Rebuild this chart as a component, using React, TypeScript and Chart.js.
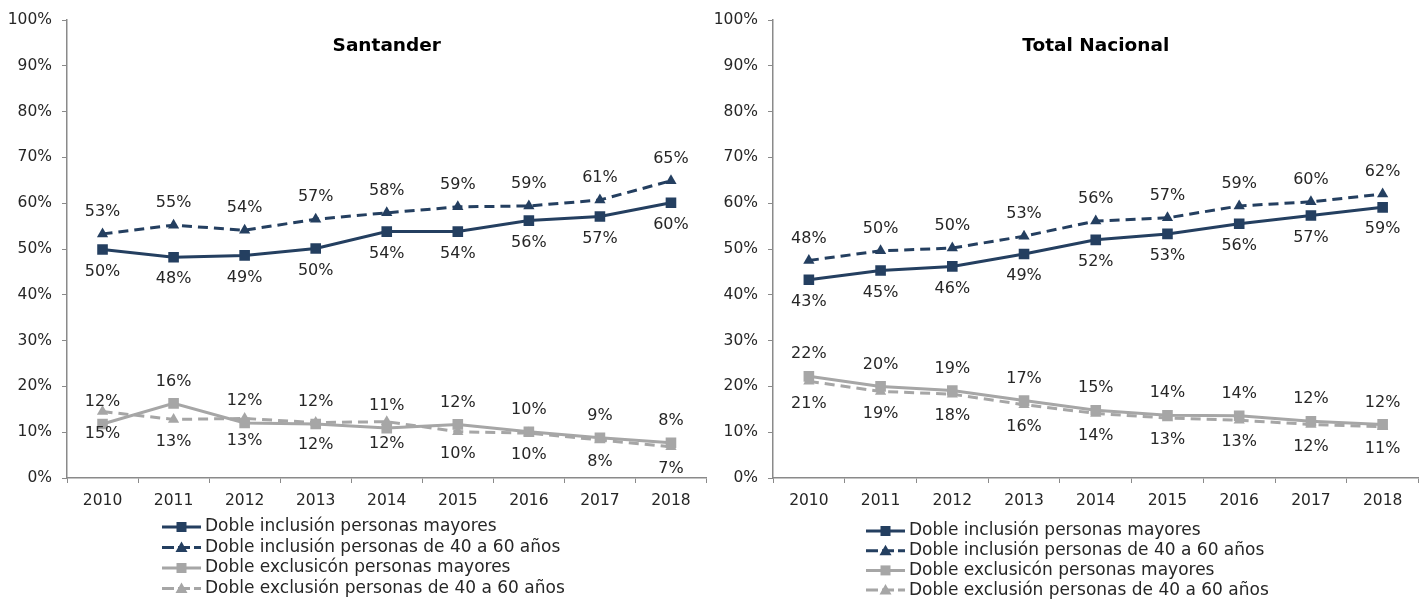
import React, { useEffect, useRef } from 'react';
import { Chart, registerables } from 'chart.js';
Chart.register(...registerables);

const years = ['2010', '2011', '2012', '2013', '2014', '2015', '2016', '2017', '2018'];
const seriesNames = [
  'Doble inclusión personas mayores',
  'Doble inclusión personas de 40 a 60 años',
  'Doble exclusicón personas mayores',
  'Doble exclusión personas de 40 a 60 años',
];
const santanderInclMayores = [49.9, 48.2, 48.6, 50.1, 53.8, 53.8, 56.2, 57.1, 60.1];
const santanderIncl4060 = [53.3, 55.2, 54.1, 56.5, 57.9, 59.2, 59.4, 60.7, 64.9];
const santanderExclMayores = [11.8, 16.3, 12.0, 11.8, 10.9, 11.7, 10.1, 8.8, 7.7];
const santanderExcl4060 = [14.5, 12.8, 13.0, 12.1, 12.3, 10.1, 9.8, 8.3, 6.8];
const nacionalInclMayores = [43.3, 45.3, 46.2, 48.9, 52.0, 53.3, 55.5, 57.3, 59.1];
const nacionalIncl4060 = [47.5, 49.6, 50.2, 52.8, 56.1, 56.8, 59.4, 60.3, 62.0];
const nacionalExclMayores = [22.2, 20.0, 19.1, 16.9, 14.8, 13.7, 13.6, 12.4, 11.7];
const nacionalExcl4060 = [21.1, 18.9, 18.3, 16.0, 14.1, 13.1, 12.6, 11.7, 11.2];
const yMin = 0;
const yMax = 100;
const yStep = 10;

const NAVY = '#243F60';
const GRAY = '#A6A6A6';
const TEXT = '#262626';
const AXIS = '#8a8a8a';
const FONT = '"DejaVu Sans"';
const DASH = [10, 6];

type ChartProps = {
  title: string;
  series: number[][];
  left: number;
  width: number;
  yWidth: number;
  padRight: number;
  legendX: number;
  legendY: number;
  legendGap: number;
};

function drawMarker(ctx: CanvasRenderingContext2D, style: string, x: number, y: number, color: string) {
  ctx.fillStyle = color;
  ctx.beginPath();
  if (style === 'rect') {
    ctx.rect(x - 5, y - 5, 10, 10);
  } else {
    ctx.moveTo(x, y - 6);
    ctx.lineTo(x + 6, y + 4.5);
    ctx.lineTo(x - 6, y + 4.5);
    ctx.closePath();
  }
  ctx.fill();
}

function LineChart({ title, series, left, width, yWidth, padRight, legendX, legendY, legendGap }: ChartProps) {
  const ref = useRef<HTMLCanvasElement>(null);
  useEffect(() => {
    if (!ref.current) return;
    const colors = [NAVY, NAVY, GRAY, GRAY];
    const styles = ['rect', 'triangle', 'rect', 'triangle'];
    const dashes = [[], DASH, [], DASH];
    const labelPos = [1, -1, -1, 1];

    const titlePlugin = {
      id: 'titleInside',
      afterDraw(chart: any) {
        const { ctx, chartArea } = chart;
        ctx.save();
        ctx.font = `bold 18.5px ${FONT}`;
        ctx.fillStyle = '#000';
        ctx.textAlign = 'center';
        ctx.textBaseline = 'middle';
        ctx.fillText(title, (chartArea.left + chartArea.right) / 2, chartArea.top + 26);
        ctx.restore();
      },
    };

    const labelPlugin = {
      id: 'pointLabels',
      afterDatasetsDraw(chart: any) {
        const { ctx } = chart;
        ctx.save();
        ctx.font = `16px ${FONT}`;
        ctx.fillStyle = TEXT;
        ctx.textAlign = 'center';
        ctx.textBaseline = 'middle';
        chart.data.datasets.forEach((ds: any, i: number) => {
          const meta = chart.getDatasetMeta(i);
          meta.data.forEach((pt: any, j: number) => {
            const v = ds.data[j];
            ctx.fillText(Math.round(v) + '%', pt.x, pt.y + labelPos[i] * 22);
          });
        });
        ctx.restore();
      },
    };

    const legendPlugin = {
      id: 'listLegend',
      afterDraw(chart: any) {
        const { ctx, chartArea } = chart;
        ctx.save();
        seriesNames.forEach((name, i) => {
          const x0 = chartArea.left + legendX;
          const y = chartArea.bottom + legendY + i * legendGap;
          ctx.strokeStyle = colors[i];
          ctx.lineWidth = 3;
          ctx.setLineDash(dashes[i].length ? [12, 4] : []);
          ctx.beginPath();
          ctx.moveTo(x0, y);
          ctx.lineTo(x0 + 39, y);
          ctx.stroke();
          ctx.setLineDash([]);
          drawMarker(ctx, styles[i], x0 + 19.5, y, colors[i]);
          ctx.font = `17px ${FONT}`;
          ctx.fillStyle = TEXT;
          ctx.textAlign = 'left';
          ctx.textBaseline = 'middle';
          ctx.fillText(name, x0 + 43, y);
        });
        ctx.restore();
      },
    };

    const chart = new Chart(ref.current, {
      type: 'line',
      data: {
        labels: years,
        datasets: series.map((d, i) => ({
          label: seriesNames[i],
          data: d,
          borderColor: colors[i],
          backgroundColor: colors[i],
          borderWidth: 3,
          borderDash: dashes[i],
          pointStyle: styles[i],
          pointRadius: styles[i] === 'rect' ? 7.5 : 6.5,
          pointBorderWidth: 0,
          tension: 0,
        })),
      },
      options: {
        animation: false,
        responsive: false,
        devicePixelRatio: 1,
        layout: { padding: { top: 20, left: 0, right: padRight, bottom: 0 } },
        plugins: {
          legend: { display: false },
          title: { display: false },
          tooltip: { enabled: false },
        },
        scales: {
          x: {
            offset: true,
            grid: {
              offset: true,
              drawOnChartArea: false,
              drawTicks: true,
              tickLength: 5,
              color: AXIS,
            },
            border: { color: AXIS, width: 1.5 },
            ticks: { font: { family: FONT, size: 15.5 }, color: TEXT, padding: 9, maxRotation: 0 },
            afterFit(scale: any) {
              scale.height = 122;
            },
          },
          y: {
            min: yMin,
            max: yMax,
            grid: { drawOnChartArea: false, drawTicks: true, tickLength: 5, color: AXIS },
            border: { color: AXIS, width: 1.5 },
            ticks: {
              stepSize: yStep,
              font: { family: FONT, size: 15.5 },
              color: TEXT,
              padding: 10,
              callback: (v: any) => v + '%',
            },
            afterFit(scale: any) {
              scale.width = yWidth;
            },
          },
        },
      },
      plugins: [titlePlugin, labelPlugin, legendPlugin],
    } as any);
    return () => chart.destroy();
  }, []);
  return (
    <div style={{ position: 'absolute', left, top: 0, width, height: 600 }}>
      <canvas ref={ref} width={width} height={600} style={{ display: 'block' }} />
    </div>
  );
}

export default function App() {
  return (
    <div style={{ position: 'absolute', left: 0, top: 0, width: 1426, height: 600, background: '#fff' }}>
      <LineChart
        title="Santander"
        series={[santanderInclMayores, santanderIncl4060, santanderExclMayores, santanderExcl4060]}
        left={0}
        width={714}
        yWidth={67}
        padRight={2}
        legendX={95}
        legendY={49}
        legendGap={20.5}
      />
      <LineChart
        title="Total Nacional"
        series={[nacionalInclMayores, nacionalIncl4060, nacionalExclMayores, nacionalExcl4060]}
        left={712}
        width={714}
        yWidth={61}
        padRight={5}
        legendX={93}
        legendY={53}
        legendGap={19.7}
      />
    </div>
  );
}
